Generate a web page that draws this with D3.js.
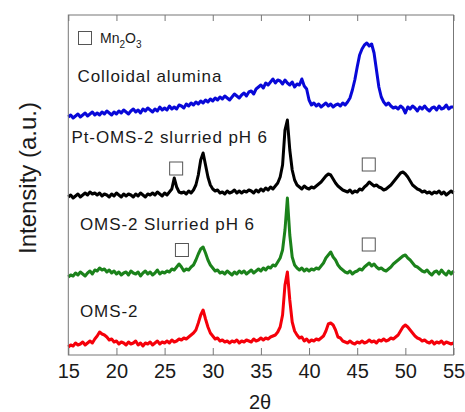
<!DOCTYPE html>
<html>
<head>
<meta charset="utf-8">
<script src="https://cdnjs.cloudflare.com/ajax/libs/d3/7.8.5/d3.min.js"></script>
<style>
  body { margin: 0; background: #fff; }
  text { font-family: "Liberation Sans", Arial, sans-serif; fill: #1a1a1a; }
</style>
</head>
<body>
<svg id="chart" width="465" height="412"></svg>
<script>
// 2theta grid, 0.25 deg steps from 15 to 55
var twoTheta = d3.range(0, 161).map(function(i) { return 15 + i * 0.25; });

var xTicks = [15, 20, 25, 30, 35, 40, 45, 50, 55];

// intensities as plotted (already stacked), 4 values per degree
var omsRed = [
  8,10,9,12, 10,11,13,10, 12,14,12,16, 19,23,21,20, 18,15,16,13,
  14,11,13,12, 10,13,11,12, 14,10,12,9, 12,11,13,10, 12,14,11,13,
  12,14,12,15, 13,14,16,15, 17,16,18,20, 22,25,32,40, 45,36,28,22,
  19,16,17,14, 15,13,14,12, 14,13,15,12, 14,13,15,14, 13,16,14,15,
  17,15,17,16, 18,19,20,23, 28,40,70,83, 55,33,24,20, 17,18,14,16,
  13,15,14,16, 15,17,19,24, 31,32,30,25, 18,17,14,13, 12,14,12,11,
  13,12,14,12, 13,15,13,14, 12,15,14,16, 14,15,17,16, 18,20,24,28,
  30,28,25,22, 19,17,16,14, 15,13,12,14, 11,13,12,14, 11,13,12,11,
  12
];

var omsSlurried = [
  78,80,79,82, 80,83,81,79, 82,84,81,85, 84,87,85,86, 83,85,82,84,
  81,83,80,82, 83,80,84,82, 81,83,79,82, 84,81,83,80, 82,85,81,83,
  82,84,83,86, 85,88,91,88, 84,86,85,88, 90,95,101,106, 108,102,95,90,
  87,84,85,82, 83,81,84,82, 80,83,81,84, 82,84,81,83, 85,82,84,86,
  84,87,85,88, 87,90,89,93, 97,105,125,157, 120,98,90,87, 85,87,84,86,
  84,86,85,87, 86,89,92,97, 100,103,98,95, 90,87,85,83, 82,84,81,83,
  84,86,85,88, 90,92,89,91, 88,86,87,85, 84,86,88,91, 93,95,97,99,
  100,97,95,92, 89,88,86,84, 83,85,82,80, 83,84,81,85, 82,80,84,81,
  84
];

var ptOmsSlurried = [
  158,160,157,159, 161,158,160,162, 160,163,161,162, 160,162,159,161, 160,158,161,159,
  162,160,158,161, 159,161,160,158, 161,159,162,160, 158,161,160,162, 160,163,161,159,
  162,160,163,166, 177,168,163,162, 163,161,164,162, 165,170,180,195, 202,190,178,170,
  166,164,165,162, 163,161,164,162, 163,165,162,164, 162,164,163,165, 164,162,165,163,
  166,164,167,165, 168,166,169,172, 178,190,225,235, 205,185,175,170, 168,166,169,167,
  166,168,167,169, 171,173,176,179, 181,180,176,172, 169,167,165,164, 163,165,162,164,
  163,166,165,168, 170,173,171,169, 170,168,167,165, 166,168,170,173, 176,179,182,183,
  181,178,174,170, 168,166,165,163, 164,162,163,161, 163,162,164,161, 163,160,162,164,
  162
];

var colloidalAlumina = [
  238,240,237,239, 241,238,240,242, 239,241,243,240, 242,240,243,241, 244,242,240,243,
  241,244,242,245, 243,241,244,246, 243,245,242,246, 244,247,245,243, 246,244,248,245,
  247,245,249,246, 248,246,250,249, 247,251,249,252, 250,253,251,254, 252,255,253,256,
  254,257,255,258, 256,259,257,255, 258,261,259,257, 260,262,259,263, 264,261,266,268,
  270,267,272,270, 273,276,272,275, 274,271,275,272, 270,273,268,271, 270,276,269,266,
  255,250,252,249, 251,248,250,252, 249,251,248,250, 251,249,252,250, 253,257,265,275,
  288,300,306,310, 312,309,311,302, 285,268,258,253, 250,252,249,247, 248,246,249,247,
  242,248,246,249, 247,244,248,246, 249,246,244,247, 248,245,249,246, 247,250,246,248,
  248
];

var seriesNames = ["OMS-2", "OMS-2 Slurried pH 6", "Pt-OMS-2 slurried pH 6", "Colloidal alumina"];
var seriesColors = ["#f5000a", "#1b821b", "#000000", "#0808d8"];

// Mn2O3 reflections marked above the two slurried patterns
var mnAngles = [26.2, 46.2, 26.8, 46.2];
var mnLevels = [186.5, 190.5, 105, 110.5];

var width = 465, height = 412;
var margin = {left: 68.3, right: 11.5, top: 15, bottom: 57};
var plotW = width - margin.left - margin.right;
var plotH = height - margin.top - margin.bottom;

var svg = d3.select("#chart");

var x = d3.scaleLinear().domain([15, 55]).range([margin.left, margin.left + plotW]);
var y = d3.scaleLinear().domain([0, 340]).range([margin.top + plotH, margin.top]);

// traces
var line = d3.line()
  .x(function(d) { return x(d[0]); })
  .y(function(d) { return y(d[1]); });

var allSeries = [omsRed, omsSlurried, ptOmsSlurried, colloidalAlumina];
allSeries.forEach(function(vals, k) {
  svg.append("path")
    .datum(twoTheta.map(function(t, i) { return [t, vals[i]]; }))
    .attr("fill", "none")
    .attr("stroke", seriesColors[k])
    .attr("stroke-width", 3)
    .attr("stroke-linejoin", "round")
    .attr("d", line);
});

// frame
svg.append("rect")
  .attr("x", margin.left).attr("y", margin.top)
  .attr("width", plotW).attr("height", plotH)
  .attr("fill", "none").attr("stroke", "#777").attr("stroke-width", 1);

var xAxis = d3.axisBottom(x).tickValues(xTicks).tickSize(-7).tickPadding(9)
  .tickFormat(d3.format("d"));
var gx = svg.append("g")
  .attr("transform", "translate(0," + (margin.top + plotH) + ")")
  .call(xAxis);
gx.select(".domain").remove();
gx.selectAll("line").attr("stroke", "#777");
gx.selectAll("text")
  .style("font-size", "20px")
  .attr("fill", "#1a1a1a");

var gxTop = svg.append("g")
  .attr("transform", "translate(0," + margin.top + ")")
  .call(d3.axisTop(x).tickValues(xTicks).tickSize(-6).tickFormat(""));
gxTop.select(".domain").remove();
gxTop.selectAll("line").attr("stroke", "#777");

// axis titles
svg.append("text")
  .attr("x", 260).attr("y", 409)
  .attr("text-anchor", "middle")
  .style("font-size", "20px")
  .text("2θ");

svg.append("text")
  .attr("transform", "translate(36,178) rotate(-90)")
  .attr("text-anchor", "middle")
  .style("font-size", "24px")
  .text("Intensity (a.u.)");

// Mn2O3 square markers
var sq = 13;
svg.selectAll("rect.mn")
  .data(mnAngles)
  .enter().append("rect")
  .attr("class", "mn")
  .attr("x", function(d) { return x(d) - sq / 2; })
  .attr("y", function(d, i) { return y(mnLevels[i]) - sq / 2; })
  .attr("width", sq).attr("height", sq)
  .attr("fill", "#fff").attr("stroke", "#555").attr("stroke-width", 1);

// legend entry
svg.append("rect")
  .attr("x", 78.5).attr("y", 31.5).attr("width", sq).attr("height", sq)
  .attr("fill", "#fff").attr("stroke", "#555").attr("stroke-width", 1);
var mn = svg.append("text").attr("x", 100).attr("y", 43).style("font-size", "14px");
mn.append("tspan").text("Mn");
mn.append("tspan").attr("dy", 5).style("font-size", "10px").text("2");
mn.append("tspan").attr("dy", -5).text("O");
mn.append("tspan").attr("dy", 5).style("font-size", "10px").text("3");

// series labels
var labelPos = [[80, 317], [80, 230], [71.5, 143], [77.5, 82]];
seriesNames.forEach(function(name, k) {
  svg.append("text")
    .attr("x", labelPos[k][0]).attr("y", labelPos[k][1])
    .style("font-size", "17px")
    .style("letter-spacing", "0.9px")
    .text(name);
});
</script>
</body>
</html>
